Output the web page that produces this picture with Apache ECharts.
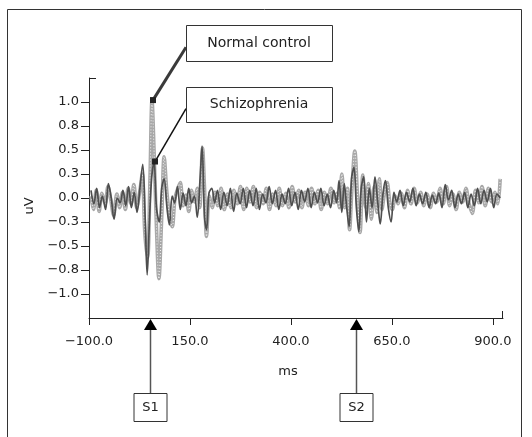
<!DOCTYPE html>
<html>
<head>
<meta charset="utf-8">
<script src="https://cdn.jsdelivr.net/npm/echarts@6/dist/echarts.min.js"></script>
<style>
html,body{margin:0;padding:0;background:#fff;}
#chart{width:532px;height:437px;}
</style>
</head>
<body>
<div id="chart"></div>
<script>
// ---- data ----
const xTicks = [-100, 150, 400, 650, 900];
const yTicks = [-1, -0.75, -0.5, -0.25, 0, 0.25, 0.5, 0.75, 1];
const stimuli = [{name: 'S1', ms: 50}, {name: 'S2', ms: 560}];
const seriesNames = ['Normal control', 'Schizophrenia'];
const peakNC = [56, 1.02];
const peakSZ = [61, 0.38];

const normalControl = [
[-95,0.02],[-89,-0.12],[-82,0.08],[-75,-0.14],[-68,0.05],[-60,-0.06],[-53,0.12],[-46,-0.02],[-39,-0.18],[-31,0.04],
[-24,-0.1],[-17,0.06],[-10,-0.12],[-3,0.1],[4,-0.06],[11,0.14],[18,-0.1],[25,0.05],[32,0.25],[38,-0.35],
[45,-0.62],[51,0.2],[56,1.02],[61,0.5],[67,-0.3],[73,-0.84],[80,-0.2],[86,0.43],[93,0.05],[100,-0.2],
[106,-0.3],[113,0.0],[120,0.1],[126,0.16],[133,-0.08],[140,0.03],[147,-0.14],[154,0.08],[161,-0.04],[168,0.1],
[174,-0.1],[181,0.52],[186,0.1],[191,-0.4],[198,0.02],[205,-0.1],[212,0.06],[219,-0.08],[227,0.1],[235,-0.12],
[243,0.04],[251,-0.1],[259,0.08],[267,-0.06],[275,0.12],[283,-0.12],[291,0.1],[299,-0.04],[307,0.12],[315,-0.1],
[323,0.06],[331,-0.06],[339,0.1],[347,-0.12],[355,0.04],[363,-0.08],[371,0.1],[379,-0.08],[387,0.05],[395,-0.1],
[403,0.12],[411,-0.04],[419,0.08],[427,-0.1],[435,0.06],[443,-0.08],[451,0.1],[459,-0.06],[467,0.08],[475,-0.12],
[483,0.06],[491,-0.06],[499,0.1],[507,-0.05],[514,0.05],[520,-0.1],[526,0.25],[533,-0.1],[540,0.1],[545,-0.33],
[551,0.1],[558,0.49],[565,0.0],[571,-0.36],[578,0.24],[585,-0.1],[592,0.15],[599,-0.22],[606,0.12],[613,-0.15],
[619,0.2],[625,-0.12],[632,0.06],[638,0.16],[645,-0.05],[651,-0.12],[658,0.02],[665,-0.06],[673,0.05],[681,-0.1],
[689,0.08],[697,-0.06],[705,0.1],[713,-0.05],[721,0.06],[729,-0.08],[737,0.04],[745,-0.1],[753,0.05],[761,-0.04],
[769,0.1],[777,-0.06],[785,0.12],[793,-0.08],[801,0.04],[809,-0.12],[817,0.06],[825,-0.04],[833,0.1],[841,-0.06],
[849,-0.16],[857,0.08],[865,-0.05],[873,0.12],[881,-0.08],[889,0.1],[897,-0.04],[905,0.06],[912,-0.06],[918,0.2]
];

const schizophrenia = [
[-95,0.08],[-88,-0.06],[-81,0.1],[-74,-0.1],[-67,0.02],[-59,-0.12],[-52,0.15],[-45,0.0],[-38,-0.22],[-30,0.0],
[-23,-0.05],[-16,0.08],[-9,-0.08],[-2,0.12],[5,-0.1],[12,0.06],[19,-0.15],[26,0.1],[33,0.35],[39,-0.2],
[44,-0.8],[50,-0.2],[55,0.2],[61,0.38],[67,-0.1],[74,-0.25],[80,0.1],[86,0.2],[93,-0.1],[99,-0.28],
[106,0.02],[112,-0.05],[119,0.12],[126,-0.12],[133,0.05],[140,-0.08],[147,0.1],[154,-0.05],[161,0.02],[168,-0.2],
[175,0.2],[180,0.54],[186,-0.2],[191,-0.33],[197,0.05],[204,0.1],[211,-0.05],[218,0.08],[226,-0.12],[234,0.06],
[242,-0.08],[250,0.1],[258,-0.14],[266,0.05],[274,-0.06],[282,0.1],[290,-0.1],[298,0.08],[306,-0.08],[314,0.1],
[322,-0.12],[330,0.04],[338,-0.05],[346,0.12],[354,-0.06],[362,0.08],[370,-0.12],[378,0.04],[386,-0.06],[394,0.1],
[402,-0.08],[410,0.06],[418,-0.12],[426,0.08],[434,-0.04],[442,0.1],[450,-0.1],[458,0.06],[466,-0.05],[474,0.1],
[482,-0.08],[490,0.04],[498,-0.1],[506,0.08],[513,-0.05],[519,0.18],[526,-0.15],[532,0.15],[538,-0.1],[544,-0.3],
[550,0.2],[556,0.32],[562,-0.1],[568,-0.35],[574,0.1],[580,0.22],[587,-0.25],[594,0.1],[601,-0.1],[608,0.22],
[615,-0.05],[621,-0.27],[628,0.05],[634,0.18],[641,-0.1],[648,-0.25],[655,0.06],[662,-0.04],[670,0.08],[678,-0.08],
[686,0.06],[694,-0.04],[702,0.1],[710,-0.08],[718,0.04],[726,-0.06],[734,0.06],[742,-0.1],[750,0.03],[758,-0.06],
[766,0.05],[774,-0.1],[782,0.14],[790,-0.02],[798,0.08],[806,-0.1],[814,0.04],[822,-0.06],[830,0.06],[838,-0.1],
[846,0.04],[854,-0.08],[862,0.1],[870,-0.06],[878,0.08],[886,-0.04],[894,0.1],[902,-0.1],[910,0.04],[918,0.0]
];

// ---- chart ----
const FONT = 'DejaVu Sans';
const fmt = v => v.toFixed(1).replace('-', '\u2212');
const chart = echarts.init(document.getElementById('chart'), null, {renderer: 'canvas'});

const option = {
  animation: false,
  backgroundColor: '#fff',
  textStyle: {fontFamily: FONT},
  grid: {left: 89, right: 29, top: 78, bottom: 119},
  xAxis: {
    type: 'value', min: -100, max: 925,
    name: 'ms', nameLocation: 'middle', nameGap: 47,
    nameTextStyle: {fontFamily: FONT, fontSize: 13, color: '#222', padding: [0, 16, 0, 0]},
    splitLine: {show: false},
    axisLine: {show: true, onZero: false, lineStyle: {color: '#222', width: 1}},
    axisTick: {show: true, length: 7, customValues: xTicks, lineStyle: {color: '#222'}},
    axisLabel: {customValues: xTicks, formatter: fmt, margin: 17, fontFamily: FONT, fontSize: 13, color: '#222'}
  },
  yAxis: {
    type: 'value', min: -1.25, max: 1.25,
    name: 'uV', nameLocation: 'middle', nameGap: 53,
    nameTextStyle: {fontFamily: FONT, fontSize: 13, color: '#222', padding: [0, 16, 0, 0]},
    splitLine: {show: false},
    axisLine: {show: true, onZero: false, lineStyle: {color: '#222', width: 1}},
    axisTick: {show: true, length: 8, customValues: yTicks, lineStyle: {color: '#222'}},
    axisLabel: {customValues: yTicks, formatter: fmt, margin: 10, fontFamily: FONT, fontSize: 13, color: '#222'}
  },
  series: [
    {name: seriesNames[0], type: 'line', data: normalControl, showSymbol: false, smooth: 0.35,
     lineStyle: {color: '#a8a8a8', width: 3.6}, z: 2},
    {name: seriesNames[0] + ' core', type: 'line', data: normalControl, showSymbol: false, smooth: 0.35,
     lineStyle: {color: '#f4f4f4', width: 1, type: [1, 2]}, z: 3, silent: true},
    {name: seriesNames[1], type: 'line', data: schizophrenia, showSymbol: false, smooth: 0.35,
     lineStyle: {color: '#4e4e4e', width: 1.7}, z: 4}
  ]
};
chart.setOption(option);

// ---- annotations ----
const px = (x, y) => chart.convertToPixel({gridIndex: 0}, [x, y]);
const g = [];
// outer frame
g.push({type: 'rect', shape: {x: 7.5, y: 9.5, width: 514, height: 440}, style: {fill: null, stroke: '#333', lineWidth: 1}, z: 0});
// axis end caps
const yTop = px(-100, 1.25), xEnd = px(925, -1.25);
g.push({type: 'line', shape: {x1: yTop[0], y1: yTop[1] + 0.5, x2: yTop[0] + 7, y2: yTop[1] + 0.5}, style: {stroke: '#222', lineWidth: 1}});
g.push({type: 'line', shape: {x1: xEnd[0] - 0.5, y1: xEnd[1], x2: xEnd[0] - 0.5, y2: xEnd[1] - 7}, style: {stroke: '#222', lineWidth: 1}});

// series label boxes with leader lines
const boxes = [
  {text: seriesNames[0], x: 186, y: 25, w: 146, h: 36, peak: peakNC, color: '#3a3a3a', lw: 3},
  {text: seriesNames[1], x: 186, y: 87, w: 146, h: 35, peak: peakSZ, color: '#111', lw: 1.5}
];
boxes.forEach(b => {
  const p = px(b.peak[0], b.peak[1]);
  g.push({type: 'line', shape: {x1: b.x, y1: b.y + b.h * 0.62, x2: p[0] + 1, y2: p[1]}, style: {stroke: b.color, lineWidth: b.lw}, z: 20});
  g.push({type: 'rect', shape: {x: p[0] - 2, y: p[1] - 3, width: 6, height: 6}, style: {fill: '#222'}, z: 21});
  g.push({type: 'rect', shape: {x: b.x + 0.5, y: b.y + 0.5, width: b.w, height: b.h}, style: {fill: '#fff', stroke: '#333', lineWidth: 1}, z: 20});
  g.push({type: 'text', x: b.x + b.w / 2, y: b.y + b.h / 2, style: {text: b.text, fontFamily: FONT, fontSize: 14, fill: '#222', align: 'center', verticalAlign: 'middle'}, z: 22});
});

// stimulus arrows
stimuli.forEach(s => {
  const p = px(s.ms, -1.25);
  const x = Math.round(p[0]) + 0.5;
  const top = p[1] + 1;
  g.push({type: 'polygon', shape: {points: [[x, top], [x - 6.5, top + 11], [x + 6.5, top + 11]]}, style: {fill: '#000'}, z: 20});
  g.push({type: 'line', shape: {x1: x, y1: top + 11, x2: x, y2: 393}, style: {stroke: '#555', lineWidth: 1.5}, z: 20});
  g.push({type: 'rect', shape: {x: x - 16.5, y: 393.5, width: 33, height: 28}, style: {fill: '#fff', stroke: '#333', lineWidth: 1}, z: 20});
  g.push({type: 'text', x: x, y: 408, style: {text: s.name, fontFamily: FONT, fontSize: 13, fill: '#222', align: 'center', verticalAlign: 'middle'}, z: 22});
});
chart.setOption({graphic: g});
</script>
</body>
</html>
